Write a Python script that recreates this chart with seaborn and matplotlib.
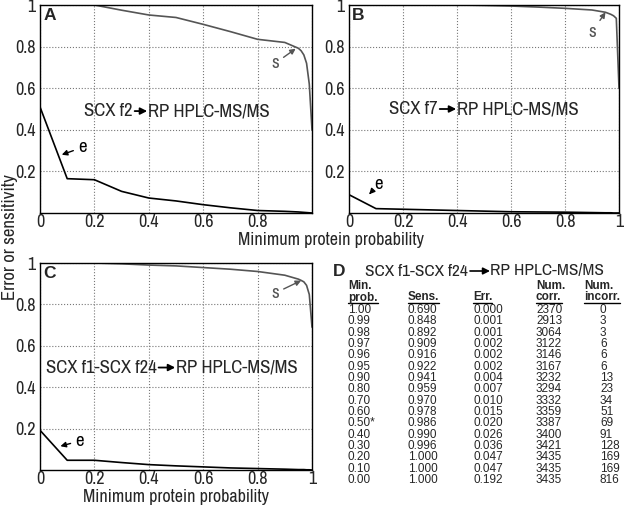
import matplotlib
matplotlib.use('Agg')
import matplotlib.pyplot as plt
from matplotlib.lines import Line2D
from matplotlib.patches import FancyArrowPatch
import seaborn as sns
import pandas as pd

# x positions (minimum protein probability) shared by all curves
min_prob = [1.00, 0.99, 0.98, 0.97, 0.96, 0.95, 0.90, 0.80, 0.70, 0.60, 0.50, 0.40, 0.30, 0.20, 0.10, 0.00]
min_prob_lbl = ['1.00', '0.99', '0.98', '0.97', '0.96', '0.95', '0.90', '0.80', '0.70', '0.60',
                '0.50*', '0.40', '0.30', '0.20', '0.10', '0.00']

# panel A (SCX f2)
sens_a = [0.40, 0.62, 0.72, 0.76, 0.78, 0.792, 0.82, 0.835, 0.872, 0.907, 0.94, 0.952, 0.975, 1.0, 1.0, 1.0]
err_a = [0.0, 0.001, 0.002, 0.003, 0.004, 0.005, 0.008, 0.012, 0.025, 0.04, 0.058, 0.072, 0.104, 0.16, 0.165, 0.51]

# panel B (SCX f7)
sens_b = [0.60, 0.936, 0.948, 0.955, 0.96, 0.965, 0.976, 0.984, 0.99, 0.995, 0.998, 1.0, 1.0, 1.0, 1.0, 1.0]
err_b = [0.0, 0.0, 0.0, 0.001, 0.001, 0.001, 0.002, 0.004, 0.005, 0.006, 0.009, 0.012, 0.015, 0.018, 0.021, 0.088]

# panel C / D table (SCX f1-SCX f24)
sens_c = [0.690, 0.848, 0.892, 0.909, 0.916, 0.922, 0.941, 0.959, 0.970, 0.978, 0.986, 0.990, 0.996, 1.000, 1.000, 1.000]
err_c = [0.000, 0.001, 0.001, 0.002, 0.002, 0.002, 0.004, 0.007, 0.010, 0.015, 0.020, 0.026, 0.036, 0.047, 0.047, 0.192]
num_corr = [2370, 2913, 3064, 3122, 3146, 3167, 3232, 3294, 3332, 3359, 3387, 3400, 3421, 3435, 3435, 3435]
num_incorr = [0, 3, 3, 6, 6, 6, 13, 23, 34, 51, 69, 91, 128, 169, 169, 816]

sns.set_style('whitegrid')
plt.rcParams['font.family'] = ['Archivo Narrow', 'DejaVu Sans']
PLAIN = ['Liberation Sans', 'DejaVu Sans']

W, H = 626, 509
fig = plt.figure(figsize=(W / 100, H / 100), dpi=100)


def box(l, t, r, b):
    return [l / W, 1 - b / H, (r - l) / W, (b - t) / H]


def panel(rect, sens, err, letter, left_txt, right_txt, split, ty, s_pos, e_pos, xlabels):
    ax = fig.add_axes(rect)
    df = pd.DataFrame({'p': min_prob, 's': sens, 'e': err})
    sns.lineplot(data=df, x='p', y='s', ax=ax, color='#555555', lw=1.2, sort=True)
    sns.lineplot(data=df, x='p', y='e', ax=ax, color='black', lw=1.2, sort=True)
    ax.set_xlim(0, 1)
    ax.set_ylim(0, 1.0)
    ax.set_xticks([0, 0.2, 0.4, 0.6, 0.8, 1.0])
    ax.set_xticklabels(xlabels)
    ax.set_yticks([0.2, 0.4, 0.6, 0.8, 1.0])
    ax.set_yticklabels(['0.2', '0.4', '0.6', '0.8', '1'])
    ax.set_xlabel('')
    ax.set_ylabel('')
    ax.grid(True, ls=':', color='#777777', lw=0.8)
    for sp in ax.spines.values():
        sp.set_color('black')
        sp.set_linewidth(1.0)
    ax.tick_params(axis='x', labelsize=13, length=0, pad=1)
    ax.tick_params(axis='y', labelsize=13, length=0, pad=3)
    ax.text(0.012, 0.985, letter, transform=ax.transAxes, fontsize=12.5, fontweight='bold',
            va='top', ha='left', family=PLAIN)
    a0, a1 = split
    ax.text(a0, ty, left_txt, transform=ax.transAxes, ha='right', va='center', fontsize=13.5)
    ax.text(a1, ty, right_txt, transform=ax.transAxes, ha='left', va='center', fontsize=13.5)
    ax.annotate('', xy=(a1 - 0.003, ty), xytext=(a0 + 0.006, ty), xycoords='axes fraction',
                arrowprops=dict(arrowstyle='-|>', color='black', lw=1.3, mutation_scale=10,
                                shrinkA=0, shrinkB=0))
    (stx, sty), (shx, shy) = s_pos
    ax.annotate('s', xy=(shx, shy), xytext=(stx, sty), fontsize=13.5, color='#555555',
                ha='center', va='center',
                arrowprops=dict(arrowstyle='-|>', color='#555555', lw=1.0, mutation_scale=8,
                                shrinkA=1, shrinkB=0))
    (etx, ety), (ehx, ehy) = e_pos
    ax.annotate('e', xy=(ehx, ehy), xytext=(etx, ety), fontsize=13.5, color='black',
                ha='center', va='center',
                arrowprops=dict(arrowstyle='-|>', color='black', lw=1.0, mutation_scale=8,
                                shrinkA=1, shrinkB=0))
    return ax


panel(box(40, 5, 312, 213), sens_a, err_a, 'A', 'SCX f2', 'RP HPLC-MS/MS', (0.342, 0.397), 0.49,
      ((0.865, 0.72), (0.94, 0.79)), ((0.155, 0.315), (0.08, 0.28)),
      ['0', '0.2', '0.4', '0.6', '0.8', ''])
panel(box(349, 5, 619, 213), sens_b, err_b, 'B', 'SCX f7', 'RP HPLC-MS/MS', (0.33, 0.40), 0.50,
      ((0.90, 0.87), (0.95, 0.965)), ((0.11, 0.14), (0.075, 0.09)),
      ['0', '0.2', '0.4', '0.6', '0.8', '1'])
panel(box(40, 263, 312, 470), sens_c, err_c, 'C', 'SCX f1-SCX f24', 'RP HPLC-MS/MS', (0.43, 0.50), 0.495,
      ((0.865, 0.855), (0.96, 0.915)), ((0.145, 0.14), (0.075, 0.115)),
      ['0', '0.2', '0.4', '0.6', '0.8', '1'])

fig.text(176 / W, 1 - 497 / H, 'Minimum protein probability', ha='center', va='center', fontsize=13)
fig.text(331 / W, 1 - 240 / H, 'Minimum protein probability', ha='center', va='center', fontsize=13)
fig.text(10 / W, 1 - 237 / H, 'Error or sensitivity', ha='center', va='center', fontsize=13.5, rotation=90)


# panel D : table
def fx(x):
    return x / W


def fy(y):
    return 1 - y / H


fig.text(fx(333), fy(271), 'D', fontsize=12.5, fontweight='bold', ha='left', va='center', family=PLAIN)
fig.text(fx(468), fy(271), 'SCX f1-SCX f24', fontsize=12.5, ha='right', va='center')
fig.text(fx(490), fy(271), 'RP HPLC-MS/MS', fontsize=12.5, ha='left', va='center')
fig.add_artist(FancyArrowPatch((fx(470), fy(271)), (fx(490), fy(271)),
                               transform=fig.transFigure, arrowstyle='-|>',
                               mutation_scale=10, lw=1.2, color='black',
                               shrinkA=0, shrinkB=0))

col_x = [348, 408, 473, 536, 584]
hdr_top = ['Min.', '', '', 'Num.', 'Num.']
hdr_bot = ['prob.', 'Sens.', 'Err.', 'corr.', 'incorr.']
under = []
for x, t, b in zip(col_x, hdr_top, hdr_bot):
    if t:
        fig.text(fx(x), fy(286), t, fontsize=8.5, fontweight='bold', ha='left', va='center',
                 family=PLAIN)
    under.append(fig.text(fx(x), fy(297.5), b, fontsize=8.5, fontweight='bold',
                          ha='left', va='center', family=PLAIN))

row_y0, row_dy = 310, 11.33
for i in range(len(min_prob)):
    y = fy(row_y0 + i * row_dy)
    vals = [min_prob_lbl[i], f'{sens_c[i]:.3f}', f'{err_c[i]:.3f}', str(num_corr[i])]
    for x, v in zip(col_x[:4], vals):
        fig.text(fx(x), y, v, fontsize=8.5, ha='left', va='center', family=PLAIN)
    fig.text(fx(600), y, str(num_incorr[i]), fontsize=8.5, ha='left', va='center', family=PLAIN)

# underline the header words
fig.canvas.draw()
for t in under:
    bb = t.get_window_extent()
    fig.add_artist(Line2D([bb.x0 / W, bb.x1 / W], [(bb.y0 + 1) / H] * 2,
                          transform=fig.transFigure, color='black', lw=1.0))

fig.savefig('out.png', dpi=100)
